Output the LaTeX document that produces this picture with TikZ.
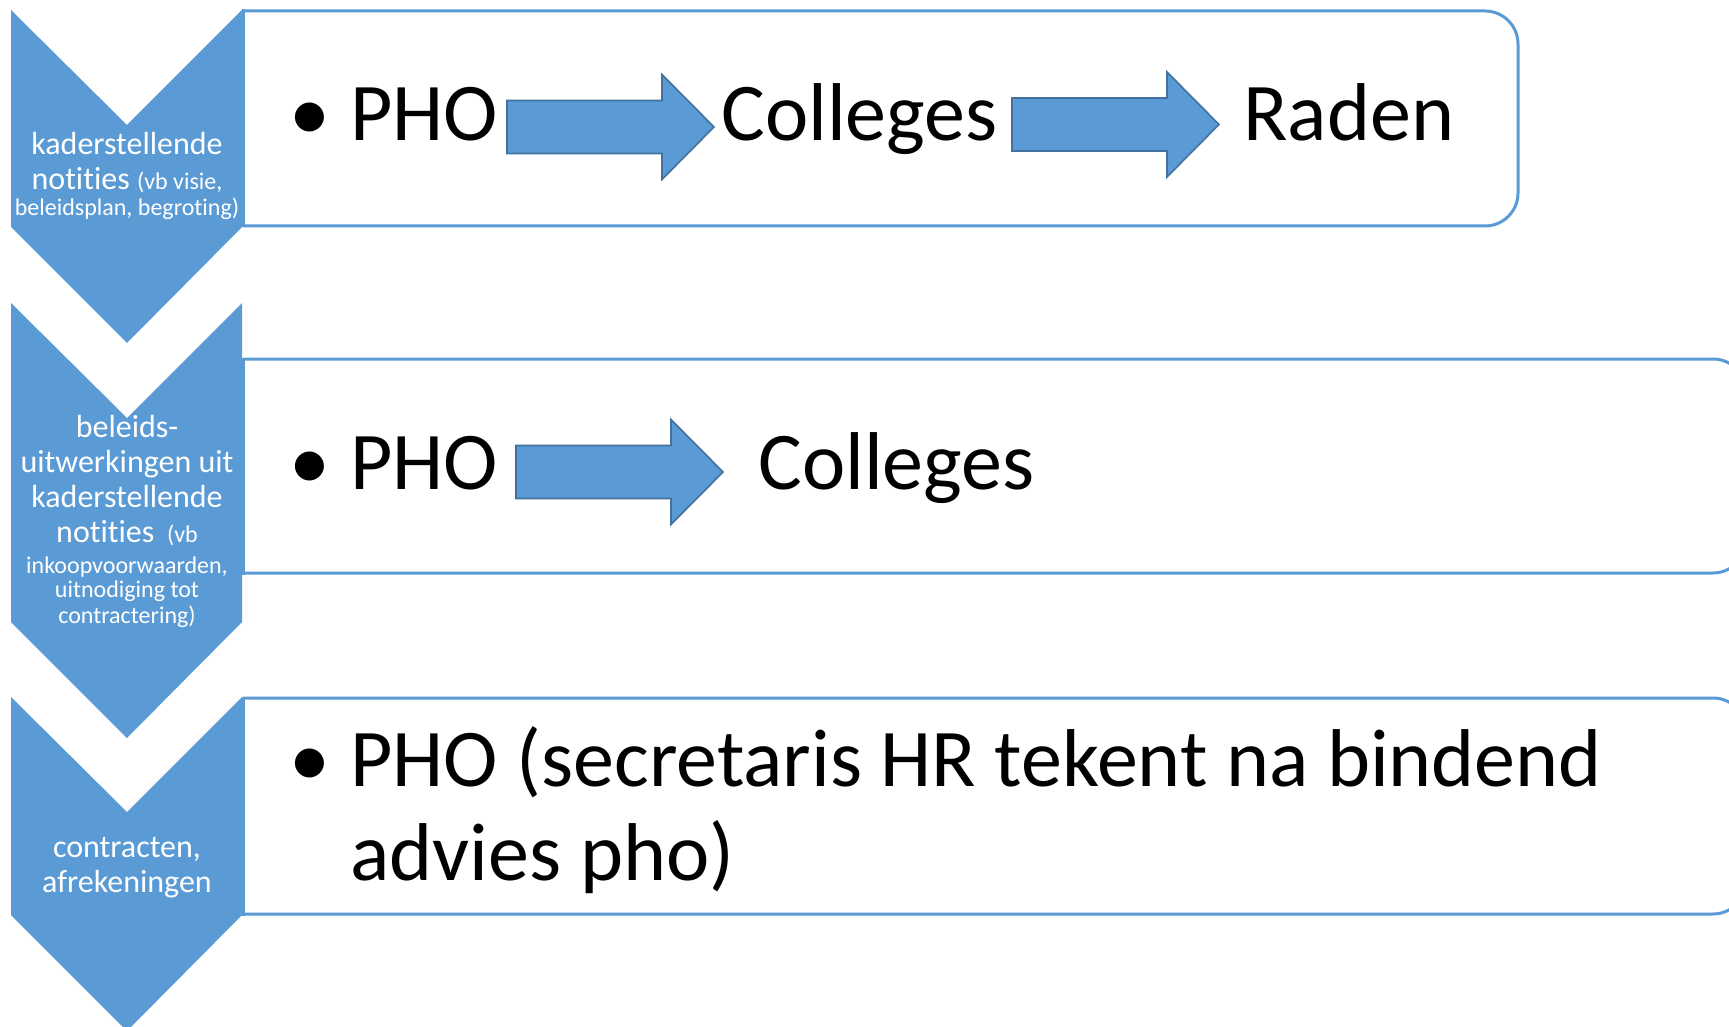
\documentclass[tikz,border=0pt]{standalone}
\usepackage{fontspec}
\setmainfont{Carlito}[Ligatures={NoCommon}]
\definecolor{cblue}{HTML}{5B9BD5}
\definecolor{cdark}{HTML}{41719C}
\begin{document}
\begin{tikzpicture}[x=0.5pt,y=-0.5pt,
  chev/.style={fill=cblue, draw=none},
  boxline/.style={draw=cblue, line width=1.5pt},
  barrow/.style={fill=cblue, draw=cdark, line width=0.8pt, line join=miter},
  chevtext/.style={text=white, align=center, inner sep=0pt, anchor=base, font=\fontsize{16}{17.5}\selectfont},
  bigtext/.style={inner sep=0pt, anchor=base west, font=\fontsize{41}{47}\selectfont},
  blockarr/.pic={\path[barrow] (0,-26.5) -- (155,-26.5) -- (155,-52.5) -- (207,0) -- (155,52.5) -- (155,26.5) -- (0,26.5) -- cycle;}
]
\newcommand{\sm}{\fontsize{12}{17.5}\selectfont}
\newcommand{\bul}{\makebox[30.5pt][l]{\textbullet}}
\useasboundingbox (0,0) rectangle (1729,1027);
\fill[white] (0,0) rectangle (1729,1027);

% chevrons
\path[chev] (11,10) -- (127,125) -- (242,10) -- (242,227) -- (127,343) -- (11,227) -- cycle;
\path[chev] (11,303) -- (127,418) -- (242,303) -- (242,622) -- (127,738) -- (11,622) -- cycle;
\path[chev] (11,697) -- (127,812) -- (242,697) -- (242,915) -- (127,1031) -- (11,915) -- cycle;

% boxes
\draw[boxline, rounded corners=16.5pt] (243,11) -- (1518,11) -- (1518,226) -- (243,226);
\draw[boxline, line cap=rect] (243,11) -- (243,226);
\draw[boxline, rounded corners=16.5pt] (243,359) -- (1746,359) -- (1746,573) -- (243,573);
\draw[boxline, line cap=rect] (243,359) -- (243,573);
\draw[boxline, rounded corners=16.5pt] (243,698) -- (1746,698) -- (1746,914) -- (243,914);
\draw[boxline, line cap=rect] (243,698) -- (243,914);

% chevron texts (base anchor = last line)
\node[chevtext] (c1) at (127,216) {kaderstellende\\ notities {\sm (vb visie,}\\[-4.5pt] \sm beleidsplan, begroting)};
\node[chevtext] (c2) at (127,623) {beleids-\\ uitwerkingen uit\\ kaderstellende\\ notities \,{\sm (vb}\\[-2pt] \sm inkoopvoorwaarden,\\[-5.5pt] \sm uitnodiging tot\\[-4.5pt] \sm contractering)};
\node[chevtext] (c3) at (127,892) {contracten,\\ afrekeningen};

% row 1
\node[bigtext] (p1) at (289,141) {\bul PHO};
\node[bigtext] (col1) at (721,141) {Colleges};
\node[bigtext] (rad) at (1243,141) {Raden};
\pic at (507,127) {blockarr};
\pic at (1012,124.5) {blockarr};

% row 2
\node[bigtext] (p2) at (289,489) {\bul PHO};
\node[bigtext] (col2) at (758,489) {Colleges};
\pic at (516,472) {blockarr};

% row 3
\node[bigtext, align=left] (p3) at (289,880) {\bul PHO (secretaris HR tekent na bindend\\ \hspace*{30.5pt}advies pho)};
\end{tikzpicture}
\end{document}
